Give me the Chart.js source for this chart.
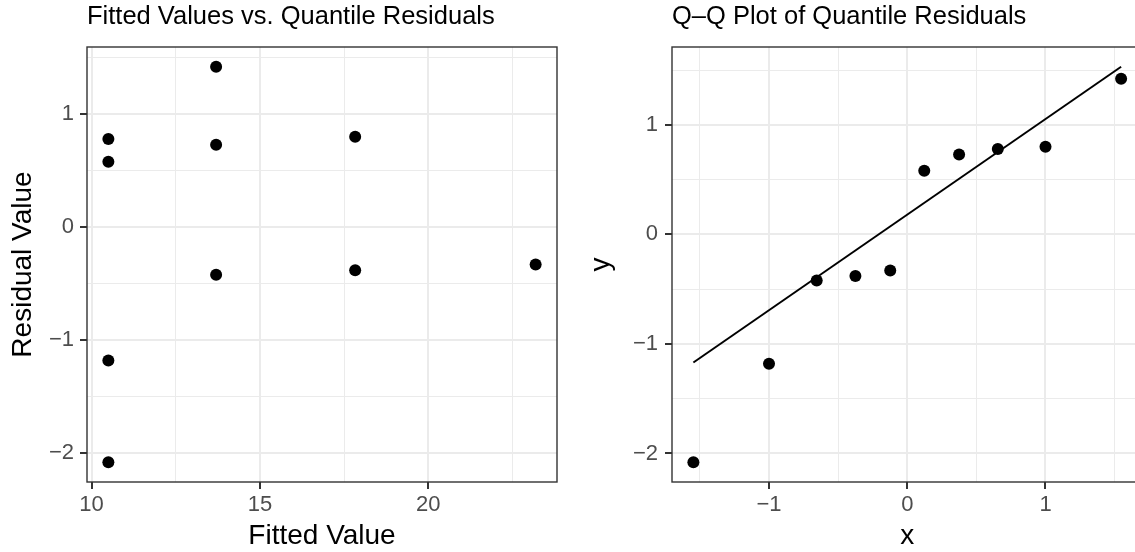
<!DOCTYPE html>
<html>
<head>
<meta charset="utf-8">
<script src="https://cdn.jsdelivr.net/npm/chart.js@4.4.1/dist/chart.umd.min.js"></script>
<style>
  html, body { margin: 0; padding: 0; background: #fff; overflow: hidden; width: 1135px; height: 552px; }
  #fitted { position: absolute; left: 0; top: 0; }
  #qq { position: absolute; left: 565px; top: 0; }
</style>
</head>
<body>
<canvas id="fitted" width="565" height="552"></canvas>
<canvas id="qq" width="585" height="552"></canvas>
<script>
// model output
const fittedValues = [10.5, 10.5, 10.5, 10.5, 13.7, 13.7, 13.7, 17.83, 17.83, 23.19];
const quantileResiduals = [0.78, 0.58, -1.18, -2.08, 1.42, 0.73, -0.42, 0.80, -0.38, -0.33];

// normal quantiles for n = 10 (ppoints)
const theoreticalQuantiles = [-1.547, -1.0, -0.655, -0.375, -0.123, 0.123, 0.375, 0.655, 1.0, 1.547];
const sampleQuantiles = [...quantileResiduals].sort((a, b) => a - b);

// qq reference line end points
const qqLineX = [-1.547, 1.547];
const qqLineY = [-1.17, 1.53];

// axis breaks
const fittedTicks = [10, 15, 20];
const fittedMinor = [12.5, 17.5, 22.5];
const residTicks = [-2, -1, 0, 1];
const residMinor = [-1.5, -0.5, 0.5, 1.5];
const qqXTicks = [-1, 0, 1];
const qqXMinor = [-1.5, -0.5, 0.5, 1.5];
const qqYTicks = [-2, -1, 0, 1];
const qqYMinor = [-1.5, -0.5, 0.5, 1.5];

const FONT = "'Liberation Sans', Arial, Helvetica, sans-serif";

function minus(v) {
    return String(v).replace('-', '\u2212');
}

// ggplot-style 5% range expansion
function expand(values) {
    const lo = Math.min(...values), hi = Math.max(...values);
    const pad = (hi - lo) * 0.05;
    return { min: lo - pad, max: hi + pad };
}

function axis(o) {
    const isMajor = c => c.tick && o.major.includes(c.tick.value);
    return {
        type: 'linear',
        position: o.pos,
        min: o.range.min,
        max: o.range.max,
        afterBuildTicks: s => {
            s.ticks = o.major.concat(o.minor).sort((a, b) => a - b).map(v => ({ value: v }));
        },
        afterFit: s => {
            if (o.width) s.width = o.width;
            if (o.height) s.height = o.height;
        },
        ticks: {
            callback: v => o.major.includes(v) ? minus(v) : '',
            color: '#4D4D4D',
            font: { family: FONT, size: 22 },
            padding: o.labelPad,
            autoSkip: false,
            maxRotation: 0
        },
        grid: {
            color: '#EBEBEB',
            lineWidth: c => isMajor(c) ? 2 : 1,
            tickLength: 7,
            tickWidth: 2,
            tickColor: c => isMajor(c) ? '#333333' : 'rgba(0,0,0,0)'
        },
        border: { display: false },
        title: {
            display: true,
            text: o.title,
            color: '#000',
            font: { family: FONT, size: 28, lineHeight: 1 },
            padding: o.titlePad
        }
    };
}

// box around the plotting area
const panelBorder = {
    id: 'panelBorder',
    afterDatasetsDraw(chart) {
        const { ctx, chartArea: a } = chart;
        ctx.save();
        ctx.strokeStyle = '#333333';
        ctx.lineWidth = 1.4;
        ctx.strokeRect(a.left, a.top, a.right - a.left, a.bottom - a.top);
        ctx.restore();
    }
};

function plotTitle(text) {
    return {
        display: true,
        text: text,
        align: 'start',
        fullSize: false,
        color: '#000',
        font: { family: FONT, size: 25.5, weight: 'normal', lineHeight: 1 },
        padding: { top: 4.4, bottom: 17.1 }
    };
}

// Fitted values vs residuals
new Chart(document.getElementById('fitted'), {
    type: 'scatter',
    data: {
        datasets: [{
            data: fittedValues.map((x, i) => ({ x: x, y: quantileResiduals[i] })),
            pointRadius: 6,
            pointBorderWidth: 0,
            pointBackgroundColor: '#000'
        }]
    },
    options: {
        responsive: false,
        animation: false,
        events: [],
        layout: { padding: { right: 8 } },
        plugins: {
            legend: { display: false },
            tooltip: { enabled: false },
            title: plotTitle('Fitted Values vs. Quantile Residuals')
        },
        scales: {
            x: axis({ pos: 'bottom', range: expand(fittedValues), major: fittedTicks, minor: fittedMinor,
                      title: 'Fitted Value', height: 70, labelPad: 3, titlePad: { bottom: 1.8 } }),
            y: axis({ pos: 'left', range: expand(quantileResiduals), major: residTicks, minor: residMinor,
                      title: 'Residual Value', width: 87, labelPad: 6, titlePad: { top: 9 } })
        }
    },
    plugins: [panelBorder]
});

// Q-Q plot
new Chart(document.getElementById('qq'), {
    type: 'scatter',
    data: {
        datasets: [{
            data: qqLineX.map((x, i) => ({ x: x, y: qqLineY[i] })),
            showLine: true,
            pointRadius: 0,
            borderColor: '#000',
            borderWidth: 2
        }, {
            data: theoreticalQuantiles.map((x, i) => ({ x: x, y: sampleQuantiles[i] })),
            pointRadius: 6,
            pointBorderWidth: 0,
            pointBackgroundColor: '#000'
        }]
    },
    options: {
        responsive: false,
        animation: false,
        events: [],
        layout: { padding: { right: 7.5 } },
        plugins: {
            legend: { display: false },
            tooltip: { enabled: false },
            title: plotTitle('Q\u2013Q Plot of Quantile Residuals')
        },
        scales: {
            x: axis({ pos: 'bottom', range: expand(theoreticalQuantiles), major: qqXTicks, minor: qqXMinor,
                      title: 'x', height: 70, labelPad: 3, titlePad: { bottom: 1.8 } }),
            y: axis({ pos: 'left', range: expand(sampleQuantiles.concat(qqLineY)), major: qqYTicks, minor: qqYMinor,
                      title: 'y', width: 107, labelPad: 7, titlePad: { top: 22.6 } })
        }
    },
    plugins: [panelBorder]
});
</script>
</body>
</html>
